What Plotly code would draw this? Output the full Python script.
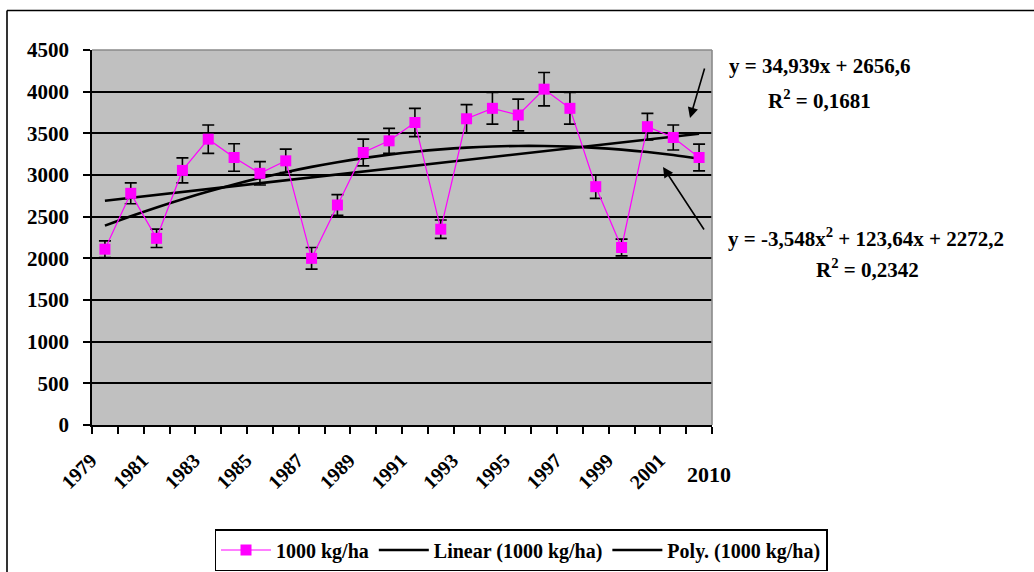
import plotly.graph_objects as go

# ---- data ----
years = [1979, 1980, 1981, 1982, 1983, 1984, 1985, 1986, 1987, 1988, 1989, 1990,
         1991, 1992, 1993, 1994, 1995, 1996, 1997, 1998, 1999, 2000, 2001, 2010]
yield_kg = [2110, 2780, 2240, 3055, 3430, 3210, 3020, 3170, 2000, 2640, 3270, 3410,
            3630, 2350, 3675, 3800, 3720, 4030, 3800, 2860, 2130, 3580, 3450, 3210]
err = [100, 125, 110, 150, 170, 165, 140, 140, 130, 125, 160, 150,
       170, 110, 170, 190, 190, 200, 190, 140, 100, 160, 150, 160]
tick_labels = ["1979", "1981", "1983", "1985", "1987", "1989", "1991", "1993",
               "1995", "1997", "1999", "2001"]
last_label = "2010"
linear_coef = [34.939, 2656.6]            # y = a*x + b
poly_coef = [-3.548, 123.64, 2272.2]      # y = a*x^2 + b*x + c
eq_linear = "y = 34,939x + 2656,6"
r2_linear = "R<sup>2</sup> = 0,1681"
eq_poly = "y = -3,548x<sup>2</sup> + 123,64x + 2272,2"
r2_poly = "R<sup>2</sup> = 0,2342"
y_ticks = [0, 500, 1000, 1500, 2000, 2500, 3000, 3500, 4000, 4500]

FONT = "serif"
W, H = 1034, 572
L, R, T, B = 92, 712, 50, 425


def px(x):
    return (x - L) / (R - L)


def py(y):
    return (B - y) / (B - T)


def bfont(size):
    return dict(family=FONT, size=size, color="black", weight="bold")


xs = list(range(len(years)))
t = [i + 1 for i in xs]
lin_vals = [linear_coef[0] * v + linear_coef[1] for v in t]
poly_vals = [poly_coef[0] * v * v + poly_coef[1] * v + poly_coef[2] for v in t]

fig = go.Figure()
fig.add_trace(go.Scatter(
    x=xs, y=lin_vals, mode="lines", name="Linear (1000 kg/ha)", legendrank=2,
    line=dict(color="black", width=2.6),
))
fig.add_trace(go.Scatter(
    x=xs, y=poly_vals, mode="lines", name="Poly. (1000 kg/ha)", legendrank=3,
    line=dict(color="black", width=2.6, shape="spline"),
))
fig.add_trace(go.Scatter(
    x=xs, y=yield_kg, mode="lines+markers", name="1000 kg/ha", legendrank=1,
    line=dict(color="#FF00FF", width=1.2),
    marker=dict(symbol="square", size=11, color="#FF00FF"),
    error_y=dict(type="data", array=err, color="black", thickness=1.6, width=6),
))

fig.update_layout(
    width=W, height=H,
    margin=dict(l=L, r=W - R, t=T, b=H - B, pad=0, autoexpand=False),
    paper_bgcolor="white", plot_bgcolor="#C0C0C0",
    font=dict(family=FONT, color="black"),
    showlegend=True,
    legend=dict(
        orientation="h", x=px(521), xanchor="center", y=py(529), yanchor="top",
        bordercolor="black", borderwidth=1.5, bgcolor="white",
        font=bfont(20), itemwidth=50, traceorder="normal",
    ),
    xaxis=dict(
        range=[-0.5, len(years) - 0.5], showgrid=False, zeroline=False,
        tickvals=xs[0:23:2], ticktext=tick_labels,
        ticks="", tickangle=-45, tickfont=bfont(20),
        ticklabelstandoff=14, ticklabelshift=-14,
        showline=True, linecolor="black", linewidth=1.6,
        minor=dict(ticks="outside", tick0=-0.5, dtick=1, ticklen=7,
                   tickcolor="black", tickwidth=1.6, showgrid=False),
        fixedrange=True,
    ),
    yaxis=dict(
        range=[0, 4500], tickvals=y_ticks, showgrid=True, gridcolor="black",
        gridwidth=1.5, zeroline=False, showline=True, linecolor="black",
        linewidth=1.6, ticks="outside", ticklen=7, tickcolor="black",
        tickwidth=1.6, tickfont=bfont(21), ticklabelstandoff=10, fixedrange=True,
    ),
)

# plot-area border (top/right gray) and outer frame
fig.add_shape(type="line", xref="paper", yref="paper", x0=0, x1=1, y0=1, y1=1,
              line=dict(color="#8A8A8A", width=1.6), layer="above")
fig.add_shape(type="line", xref="paper", yref="paper", x0=1, x1=1, y0=0, y1=1,
              line=dict(color="#8A8A8A", width=1.6), layer="above")
fig.add_shape(type="line", xref="paper", yref="paper", x0=px(7), x1=px(W + 5),
              y0=py(10.5), y1=py(10.5), line=dict(color="black", width=1.6))
fig.add_shape(type="line", xref="paper", yref="paper", x0=px(7), x1=px(7),
              y0=py(10.5), y1=py(H + 5), line=dict(color="black", width=1.6))

for txt, cx, cy in [(eq_linear, 820, 66), (r2_linear, 819, 100),
                    (eq_poly, 866, 237), (r2_poly, 867, 268)]:
    fig.add_annotation(text=txt, xref="paper", yref="paper", x=px(cx), y=py(cy),
                       xanchor="center", yanchor="middle", showarrow=False,
                       font=bfont(21))

# last category label drawn horizontally
fig.add_annotation(text=last_label, xref="x", yref="paper", x=xs[-1], y=py(474),
                   xshift=10, xanchor="center", yanchor="middle", showarrow=False,
                   font=bfont(22))

# arrows pointing at the trend lines
for tip, tail in [((690, 118), (705, 67)), ((663, 167), (705, 231))]:
    fig.add_annotation(text="", xref="paper", yref="paper", x=px(tip[0]), y=py(tip[1]),
                       ax=tail[0] - tip[0], ay=tail[1] - tip[1], axref="pixel",
                       ayref="pixel", showarrow=True, arrowhead=2, arrowsize=1.3,
                       arrowwidth=1.6, arrowcolor="black")

fig.write_html("out.html")
